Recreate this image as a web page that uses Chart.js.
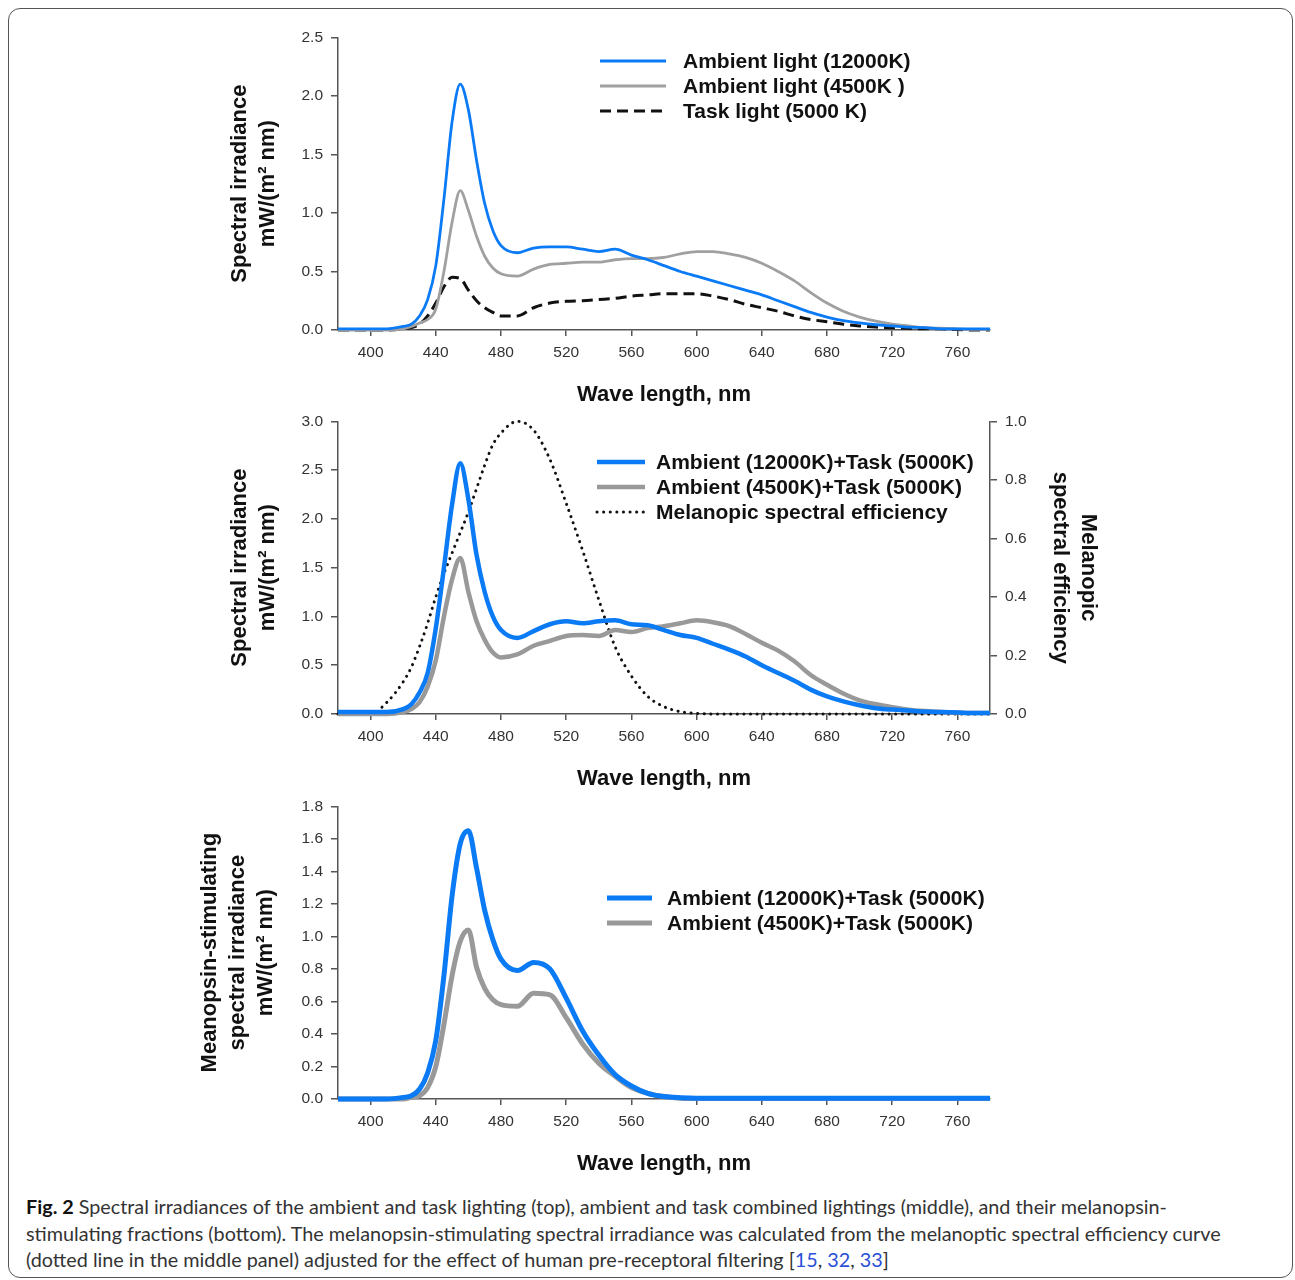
<!DOCTYPE html>
<html>
<head>
<meta charset="utf-8">
<script src="https://cdn.jsdelivr.net/npm/chart.js@4.4.1/dist/chart.umd.min.js"></script>
<style>
  body { margin: 0; background: #fff; }
  #figure { position: relative; width: 1295px; height: 1280px; overflow: hidden; }
  #frame {
    position: absolute; left: 8px; top: 8px; width: 1285px; height: 1270px;
    border: 1.5px solid #555; border-radius: 12px; box-sizing: border-box;
  }
  .panel { position: absolute; left: 0; width: 1295px; height: 390px; }
  #caption {
    position: absolute; left: 26px; top: 1193px; white-space: nowrap;
    font-family: Lato, sans-serif; font-size: 19.8px; line-height: 26.5px; color: #333;
  }
  #caption b { color: #111; }
  #caption a { color: #2a4fd8; text-decoration: none; }
</style>
</head>
<body>
<div id="figure">
  <div id="frame"></div>
  <div class="panel" style="top:20px"><canvas id="top-chart" width="1295" height="390"></canvas></div>
  <div class="panel" style="top:404px"><canvas id="middle-chart" width="1295" height="390"></canvas></div>
  <div class="panel" style="top:789px"><canvas id="bottom-chart" width="1295" height="390"></canvas></div>
  <div id="caption">
    <b>Fig. 2</b> Spectral irradiances of the ambient and task lighting (top), ambient and task combined lightings (middle), and their melanopsin-<br>
    stimulating fractions (bottom). The melanopsin-stimulating spectral irradiance was calculated from the melanoptic spectral efficiency curve<br>
    (dotted line in the middle panel) adjusted for the effect of human pre-receptoral filtering [<a>15</a>, <a>32</a>, <a>33</a>]
  </div>
</div>

<script>
// wavelength grid (nm), denser around the blue LED peak
const wavelengths = [380, 390, 400, 410, 420, 425, 430, 435, 440, 445, 450, 455, 460, 465, 470, 475, 480,
  490, 500, 510, 520, 530, 540, 550, 560, 570, 580, 590, 600, 610, 620, 630, 640, 650, 660, 670, 680,
  690, 700, 710, 720, 730, 740, 750, 760, 770, 780];
const xTicks = [400, 440, 480, 520, 560, 600, 640, 680, 720, 760];

// top panel
const ambient12000 = [0.01, 0.01, 0.01, 0.01, 0.03, 0.05, 0.12, 0.26, 0.55, 1.12, 1.78, 2.10, 1.88, 1.45, 1.08, 0.85, 0.72,
  0.66, 0.70, 0.71, 0.71, 0.69, 0.67, 0.69, 0.64, 0.60, 0.55, 0.50, 0.46, 0.42, 0.38, 0.34, 0.30, 0.25, 0.20, 0.15, 0.11,
  0.08, 0.06, 0.045, 0.035, 0.025, 0.02, 0.01, 0.01, 0.01, 0.01];
const ambient4500 = [0, 0, 0, 0, 0.01, 0.03, 0.06, 0.09, 0.18, 0.50, 0.92, 1.19, 1.02, 0.80, 0.63, 0.53, 0.48,
  0.46, 0.52, 0.56, 0.57, 0.58, 0.58, 0.60, 0.61, 0.61, 0.62, 0.65, 0.67, 0.67, 0.65, 0.62, 0.57, 0.50, 0.42, 0.32, 0.23,
  0.16, 0.11, 0.075, 0.05, 0.035, 0.02, 0.015, 0.01, 0.005, 0.005];
const task5000 = [0, 0, 0, 0, 0.01, 0.02, 0.05, 0.12, 0.23, 0.37, 0.45, 0.44, 0.34, 0.25, 0.19, 0.15, 0.12,
  0.12, 0.19, 0.23, 0.245, 0.25, 0.26, 0.27, 0.29, 0.30, 0.31, 0.31, 0.31, 0.29, 0.26, 0.22, 0.19, 0.16, 0.12, 0.09, 0.07,
  0.05, 0.035, 0.025, 0.02, 0.015, 0.01, 0.01, 0.005, 0, 0];

// middle panel
const combined12000 = [0.02, 0.02, 0.02, 0.02, 0.05, 0.10, 0.22, 0.42, 0.88, 1.50, 2.15, 2.57, 2.20, 1.63, 1.25, 1.00, 0.86,
  0.78, 0.85, 0.92, 0.95, 0.93, 0.95, 0.96, 0.92, 0.91, 0.86, 0.81, 0.78, 0.72, 0.66, 0.59, 0.50, 0.42, 0.34, 0.25, 0.18,
  0.13, 0.09, 0.06, 0.045, 0.035, 0.025, 0.02, 0.015, 0.01, 0.01];
const combined4500 = [0, 0, 0, 0, 0.02, 0.05, 0.12, 0.28, 0.55, 1.00, 1.38, 1.60, 1.25, 0.95, 0.76, 0.63, 0.58,
  0.61, 0.70, 0.75, 0.80, 0.81, 0.80, 0.86, 0.84, 0.88, 0.90, 0.93, 0.96, 0.94, 0.90, 0.82, 0.73, 0.65, 0.54, 0.40, 0.30,
  0.21, 0.14, 0.10, 0.07, 0.045, 0.03, 0.02, 0.015, 0.01, 0.01];
const melanopic = [0, 0, 0, 0.04, 0.11, 0.16, 0.23, 0.31, 0.40, 0.48, 0.55, 0.62, 0.69, 0.77, 0.85, 0.92, 0.96,
  1.00, 0.97, 0.87, 0.72, 0.56, 0.39, 0.23, 0.13, 0.06, 0.025, 0.008, 0.002, 0, 0, 0, 0, 0, 0, 0, 0,
  0, 0, 0, 0, 0, 0, 0, 0, 0, 0];

// bottom panel
const stimulating12000 = [0, 0, 0, 0, 0.01, 0.02, 0.06, 0.16, 0.36, 0.76, 1.25, 1.57, 1.65, 1.42, 1.16, 0.98, 0.86,
  0.79, 0.84, 0.80, 0.62, 0.42, 0.27, 0.15, 0.08, 0.035, 0.015, 0.008, 0.005, 0.005, 0.005, 0.005, 0.005, 0.005, 0.005, 0.005, 0.005,
  0.005, 0.005, 0.005, 0.005, 0.005, 0.005, 0.005, 0.005, 0.005, 0.005];
const stimulating4500 = [0, 0, 0, 0, 0, 0.01, 0.02, 0.07, 0.20, 0.46, 0.76, 0.97, 1.04, 0.81, 0.68, 0.61, 0.58,
  0.57, 0.65, 0.64, 0.50, 0.34, 0.22, 0.14, 0.07, 0.035, 0.015, 0.005, 0.003, 0.003, 0.003, 0.003, 0.003, 0.003, 0.003, 0.003, 0.003,
  0.003, 0.003, 0.003, 0.003, 0.003, 0.003, 0.003, 0.003, 0.003, 0.003];

const BLUE = '#0a7af5';
const GRAY = '#a0a0a0';
const AXIS = '#555';
const FONT = "Arial, 'Liberation Sans', Helvetica, sans-serif";

Chart.defaults.font.family = FONT;
Chart.defaults.color = '#333';

function points(values) {
  return wavelengths.map((w, i) => ({ x: w, y: values[i] }));
}

function line(label, values, color, width, extra) {
  return Object.assign({
    label: label,
    data: points(values),
    borderColor: color,
    borderWidth: width,
    pointRadius: 0,
    cubicInterpolationMode: 'monotone',
    clip: 8,
  }, extra || {});
}

// legend drawn inside the plot, using each dataset's own stroke style
const insideLegend = {
  id: 'insideLegend',
  afterDatasetsDraw(chart, args, opts) {
    const ctx = chart.ctx;
    ctx.save();
    chart.data.datasets.forEach((ds, i) => {
      const y = opts.y + i * opts.rowHeight;
      ctx.beginPath();
      ctx.strokeStyle = ds.borderColor;
      ctx.lineWidth = ds.borderWidth;
      ctx.lineCap = ds.borderCapStyle || 'butt';
      ctx.setLineDash(ds.borderDash || []);
      ctx.moveTo(opts.x, y);
      ctx.lineTo(opts.x + opts.lineLength, y);
      ctx.stroke();
      ctx.setLineDash([]);
      ctx.fillStyle = '#111';
      ctx.font = 'bold 21px ' + FONT;
      ctx.textBaseline = 'middle';
      ctx.fillText(ds.label, opts.textX, y + 1);
    });
    ctx.restore();
  }
};

function xScale() {
  return {
    type: 'linear',
    min: 380,
    max: 780,
    afterBuildTicks: (scale) => { scale.ticks = xTicks.map(v => ({ value: v })); },
    afterFit: (scale) => { scale.height = 80; },
    border: { color: AXIS, width: 1.5 },
    grid: { drawOnChartArea: false, drawTicks: true, tickLength: 6, color: AXIS, lineWidth: 1.5 },
    ticks: { padding: 7, font: { size: 15.5 }, color: '#333', maxRotation: 0 },
    title: {
      display: true, text: 'Wave length, nm', color: '#111',
      font: { size: 22, weight: 'bold', lineHeight: 1.2 }, padding: { top: 0, bottom: 2 }
    }
  };
}

function yScale(max, step, titleLines, titlePad, position, width) {
  return {
    type: 'linear',
    position: position,
    min: 0,
    max: max,
    afterFit: (scale) => { scale.width = width; },
    border: { color: AXIS, width: 1.5 },
    grid: { drawOnChartArea: false, drawTicks: true, tickLength: 7, color: AXIS, lineWidth: 1.5 },
    ticks: { stepSize: step, padding: 8, font: { size: 15.5 }, color: '#333', callback: v => v.toFixed(1) },
    title: {
      display: true, text: titleLines, color: '#111',
      font: { size: 22, weight: 'bold', lineHeight: '28px' }, padding: { top: titlePad, bottom: 0 }
    }
  };
}

function baseOptions(scales, rightPad, legend) {
  return {
    responsive: false,
    animation: false,
    devicePixelRatio: 1,
    layout: { padding: { left: 0, right: rightPad, top: 15, bottom: 0 } },
    scales: scales,
    plugins: {
      legend: { display: false },
      tooltip: { enabled: false },
      insideLegend: legend
    }
  };
}

new Chart(document.getElementById('top-chart'), {
  type: 'line',
  data: {
    datasets: [
      line('Ambient light (12000K)', ambient12000, BLUE, 2.8),
      line('Ambient light (4500K )', ambient4500, GRAY, 2.8),
      line('Task light (5000 K)', task5000, '#111', 3, { borderDash: [11, 6] })
    ]
  },
  options: baseOptions({
    x: xScale(),
    y: yScale(2.5, 0.5, ['Spectral irradiance', 'mW/(m² nm)'], 226, 'left', 338)
  }, 305, { x: 600, y: 41, rowHeight: 25, lineLength: 66, textX: 683 }),
  plugins: [insideLegend]
});

new Chart(document.getElementById('middle-chart'), {
  type: 'line',
  data: {
    datasets: [
      line('Ambient (12000K)+Task (5000K)', combined12000, BLUE, 4.5),
      line('Ambient (4500K)+Task (5000K)', combined4500, '#999', 4.5),
      line('Melanopic spectral efficiency', melanopic, '#111', 3,
        { yAxisID: 'y2', borderDash: [0.1, 6.5], borderCapStyle: 'round' })
    ]
  },
  options: baseOptions({
    x: xScale(),
    y: yScale(3, 0.5, ['Spectral irradiance', 'mW/(m² nm)'], 226, 'left', 338),
    y2: yScale(1, 0.2, ['Melanopic', 'spectral efficiency'], 193, 'right', 305)
  }, 0, { x: 597, y: 58, rowHeight: 25, lineLength: 48, textX: 656 }),
  plugins: [insideLegend]
});

new Chart(document.getElementById('bottom-chart'), {
  type: 'line',
  data: {
    datasets: [
      line('Ambient (12000K)+Task (5000K)', stimulating12000, BLUE, 5),
      line('Ambient (4500K)+Task (5000K)', stimulating4500, '#999', 5)
    ]
  },
  options: baseOptions({
    x: xScale(),
    y: yScale(1.8, 0.2, ['Meanopsin-stimulating', 'spectral irradiance', 'mW/(m² nm)'], 196, 'left', 338)
  }, 305, { x: 607, y: 109, rowHeight: 25, lineLength: 45, textX: 667 }),
  plugins: [insideLegend]
});
</script>
</body>
</html>
